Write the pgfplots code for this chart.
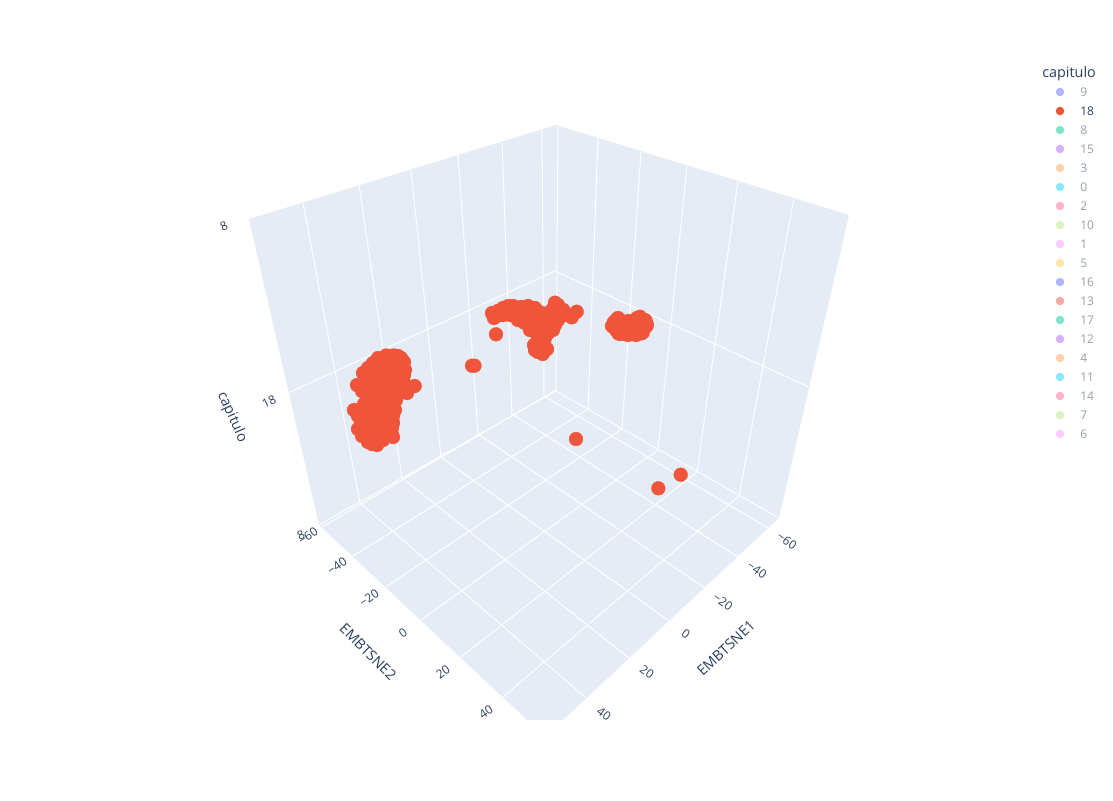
\documentclass[border=0pt]{standalone}
\usepackage{fontspec}
\setmainfont{Open Sans}
\usepackage{pgfplots}
\pgfplotsset{compat=1.18}
\definecolor{wall}{HTML}{E5ECF6}
\definecolor{ink}{HTML}{2A3F5F}
\definecolor{dot}{HTML}{EF553B}
\definecolor{pa}{HTML}{636EFA}
\definecolor{pb}{HTML}{EF553B}
\definecolor{pc}{HTML}{00CC96}
\definecolor{pd}{HTML}{AB63FA}
\definecolor{pe}{HTML}{FFA15A}
\definecolor{pf}{HTML}{19D3F3}
\definecolor{pg}{HTML}{FF6692}
\definecolor{ph}{HTML}{B6E880}
\definecolor{pi}{HTML}{FF97FF}
\definecolor{pj}{HTML}{FECB52}
\newcommand{\tl}[4]{\node[text=ink,font=\fontsize{9}{9}\selectfont,rotate=#3,inner sep=0pt,anchor=center] at (axis cs:#1,#2) {#4};}
\newcommand{\ttl}[4]{\node[text=ink,font=\fontsize{10.8}{10.8}\selectfont,rotate=#3,inner sep=0pt,anchor=center] at (axis cs:#1,#2) {#4};}
\newcommand{\lgd}[3]{%
  \addplot[only marks,mark=*,mark size=3.2pt,mark options={draw=#2,fill=#2,fill opacity=0.5,draw opacity=0}] coordinates {(1060,#1)};
  \node[text=ink,text opacity=0.5,font=\fontsize{9}{9}\selectfont,inner sep=0pt,anchor=west] at (axis cs:1080,#1.5) {#3};}
\begin{document}
\begin{tikzpicture}
\begin{axis}[
  scale only axis,width=834.75pt,height=600pt,
  xmin=0,xmax=1113,ymin=0,ymax=800,y dir=reverse,
  axis lines=none,clip=false]
% page extent
\addplot[draw=none] coordinates {(0,0)(1113,800)};
% walls and floor
\addplot[fill=wall,draw=none] coordinates {(249,219)(556,125)(556,391)(319,525)};
\addplot[fill=wall,draw=none] coordinates {(556,125)(849,215)(779,518)(556,391)};
\addplot[fill=wall,draw=none] coordinates {(319,525)(556,391)(779,518)(563,720)(527,720)};
% left wall grid
\pgfplotsset{gridline/.style={white,line width=0.75pt}}
\addplot[gridline] coordinates {(303,203)(360,503)};
\addplot[gridline] coordinates {(359,185)(402,478)};
\addplot[gridline] coordinates {(411,170)(441,457)};
\addplot[gridline] coordinates {(458,155)(478,434)};
\addplot[gridline] coordinates {(502,142)(512,414)};
\addplot[gridline] coordinates {(542,129)(544,396)};
\addplot[gridline] coordinates {(288,393)(555,271)};
% right wall grid
\addplot[gridline] coordinates {(558,126)(556,391)};
\addplot[gridline] coordinates {(598,138)(588,409)};
\addplot[gridline] coordinates {(641,152)(622,429)};
\addplot[gridline] coordinates {(687,166)(658,450)};
\addplot[gridline] coordinates {(738,181)(697,472)};
\addplot[gridline] coordinates {(794,198)(739,496)};
\addplot[gridline] coordinates {(555,271)(809,387)};
% floor grid
\addplot[gridline] coordinates {(556,391)(319,525)};
\addplot[gridline] coordinates {(556,391)(779,518)};
\addplot[gridline] coordinates {(544,396)(768,528)};
\addplot[gridline] coordinates {(512,414)(738,557)};
\addplot[gridline] coordinates {(478,434)(705,588)};
\addplot[gridline] coordinates {(441,457)(669,621)};
\addplot[gridline] coordinates {(402,478)(629,658)};
\addplot[gridline] coordinates {(360,503)(586,698)};
\addplot[gridline] coordinates {(556,390)(322,527)};
\addplot[gridline] coordinates {(588,409)(353,556)};
\addplot[gridline] coordinates {(622,429)(386,587)};
\addplot[gridline] coordinates {(658,450)(421,620)};
\addplot[gridline] coordinates {(697,472)(461,657)};
\addplot[gridline] coordinates {(739,496)(503,697)};
% series 18
\addplot[only marks,mark=*,mark size=5.2pt,mark options={draw=dot,fill=dot,line width=0.2pt}] table[row sep=crcr] {
383 358\\ 390 356\\ 398 356\\ 404 362\\ 405 370\\ 403 380\\ 414.7 386\\ 357 385\\ 363 373\\ 373 363\\
378 358\\ 386 355.5\\ 394 355.5\\ 401 358\\ 368 368\\ 404 375\\ 403 386\\ 396 400\\ 393 416\\ 392 428\\ 393 437\\ 372 444\\ 366 385\\ 408 388\\
400 393\\ 407 393\\ 354 410\\ 360 410\\ 395 410\\ 358 429\\ 393 423\\ 392 435\\ 368 442\\ 377 445\\ 383 440\\
362 391\\ 364 404\\ 358 416\\ 361 423\\ 362 436\\
373 372\\ 381 368\\ 389 366\\ 397 368\\ 370 382\\ 378 378\\ 386 376\\ 394 378\\ 368 392\\ 376 388\\ 384 386\\ 392 388\\
366 402\\ 374 398\\ 382 396\\ 390 398\\ 364 412\\ 372 408\\ 380 406\\ 388 408\\ 366 420\\ 372 418\\ 378 416\\ 386 418\\
366 428\\ 374 426\\ 382 426\\ 388 428\\ 372 436\\ 380 434\\ 386 434\\
493.3 315\\ 498.3 310.7\\ 508.3 306\\ 516.7 308.3\\ 525 307.3\\ 531.7 308.3\\ 538.3 311.7\\ 555 302.7\\ 563.3 310\\ 576.7 311.7\\
571.7 317.3\\ 555 325\\ 550 330\\ 540 331.7\\ 530 330\\ 523.3 321.7\\ 510 315\\ 500 315\\ 540 316.7\\ 546.7 316.7\\ 535 325\\
543.3 323.3\\ 560 316.7\\ 536.7 345\\ 543.3 348.3\\ 542.7 354\\ 535 350\\ 552 310\\ 530 316\\ 518 314\\ 538 338\\
492 313\\ 494 318\\ 503 308\\ 513 306\\ 521 307\\ 528 306\\ 535 308\\ 542 313\\ 548 316\\ 553 309\\ 558 305\\ 565 313\\ 503 315\\ 518 320\\ 525 323\\ 535 331.7\\ 546 330\\ 552 327\\ 558 320\\ 565 315\\ 538 340\\ 540 345\\ 545 350\\ 545 338\\ 532 322\\ 545 325\\ 551 318\\
510 310\\ 500 311\\ 520 312\\ 505 312\\ 530 325\\ 535 328\\ 540 333\\ 548 333\\ 553 330\\ 534 345\\ 538 352\\ 547 349\\ 544 342\\ 540 338\\
616.7 319.3\\ 640 316.7\\ 613.3 326.7\\ 618.3 333.3\\ 625 334\\ 633.3 334\\ 641.7 333.3\\ 646 326.7\\ 646 321.7\\ 626.7 323.3\\
633.3 325\\ 640 325\\ 620 326.7\\ 626.7 328.3\\ 623.3 321.7\\ 631.7 321.7\\
612 326\\ 614 322\\ 618 318\\ 620 322\\ 616 330\\ 620 334\\ 628 335\\ 636 335\\ 643 332\\ 647 325\\ 645 320\\ 637 318\\ 641 322\\ 627 325\\ 634 328\\ 623 330\\ 630 330\\ 638 330\\ 628 321\\ 634 321\\
496 334.3\\ 472 365.7\\ 474.5 365.7\\ 576 439\\ 680.7 474.7\\ 658.3 488.3\\
};
% tick labels
\tl{224}{226}{25}{8}
\tl{269}{402}{25}{18}
\tl{301}{535}{25}{8}
\tl{308}{536}{35}{−60}
\tl{337}{566}{35}{−40}
\tl{369}{598}{35}{−20}
\tl{403}{633}{35}{0}
\tl{443}{672}{35}{20}
\tl{486}{712}{35}{40}
\tl{787}{541}{-35}{−60}
\tl{757}{570}{-35}{−40}
\tl{723}{602}{-35}{−20}
\tl{686}{634}{-35}{0}
\tl{647}{672}{-35}{20}
\tl{604}{714}{-35}{40}
\ttl{368}{652}{-45}{EMBTSNE2}
\ttl{726}{648}{43}{EMBTSNE1}
\ttl{232}{417}{-66}{capitulo}
% legend
\node[text=ink,font=\fontsize{10.8}{10.8}\selectfont,inner sep=0pt,anchor=west] at (axis cs:1042,73.5) {capitulo};
\lgd{92}{pa}{9}
\addplot[only marks,mark=*,mark size=3.2pt,mark options={draw=dot,fill=dot,draw opacity=0}] coordinates {(1060,111)};
\node[text=ink,font=\fontsize{9}{9}\selectfont,inner sep=0pt,anchor=west] at (axis cs:1080,111.5) {18};
\lgd{130}{pc}{8}
\lgd{149}{pd}{15}
\lgd{168}{pe}{3}
\lgd{187}{pf}{0}
\lgd{206}{pg}{2}
\lgd{225}{ph}{10}
\lgd{244}{pi}{1}
\lgd{263}{pj}{5}
\lgd{282}{pa}{16}
\lgd{301}{pb}{13}
\lgd{320}{pc}{17}
\lgd{339}{pd}{12}
\lgd{358}{pe}{4}
\lgd{377}{pf}{11}
\lgd{396}{pg}{14}
\lgd{415}{ph}{7}
\lgd{434}{pi}{6}
\end{axis}
\end{tikzpicture}
\end{document}
